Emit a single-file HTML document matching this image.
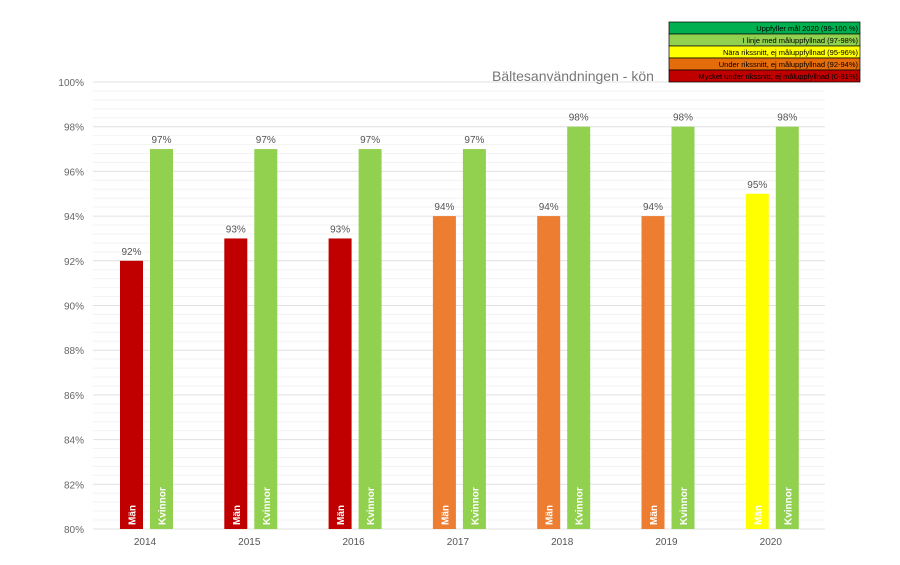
<!DOCTYPE html>
<html><head><meta charset="utf-8"><style>
body{margin:0;background:#fff;width:900px;height:560px;overflow:hidden}
svg{font-family:"Liberation Sans",sans-serif}
</style></head><body>
<svg width="900" height="560" xmlns="http://www.w3.org/2000/svg">
<g id="grid"></g>
<g id="bars"></g>
<text x="492" y="81" font-size="14" fill="#777">Bältesanvändningen - kön</text>
<g font-size="7.5" text-anchor="end" fill="#000">
<rect x="669" y="22" width="191" height="12" fill="#00b050" stroke="#000" stroke-width="0.7"/>
<text x="858" y="31">Uppfyller mål 2020 (99-100 %)</text>
<rect x="669" y="34" width="191" height="12" fill="#92d050" stroke="#000" stroke-width="0.7"/>
<text x="858" y="43">I linje med måluppfyllnad (97-98%)</text>
<rect x="669" y="46" width="191" height="12" fill="#ffff00" stroke="#000" stroke-width="0.7"/>
<text x="858" y="55">Nära rikssnitt, ej måluppfyllnad (95-96%)</text>
<rect x="669" y="58" width="191" height="12" fill="#e46c0a" stroke="#000" stroke-width="0.7"/>
<text x="858" y="67">Under rikssnitt, ej måluppfyllnad (92-94%)</text>
<rect x="669" y="70" width="191" height="12" fill="#c00000" stroke="#000" stroke-width="0.7"/>
<text x="858" y="79">Mycket under rikssnitt, ej måluppfyllnad (0-91%)</text>
</g>
</svg>
<script>
const ns="http://www.w3.org/2000/svg",s=22.35,y0=529;
const Y=v=>y0-(v-80)*s;
const g=document.getElementById('grid'),b=document.getElementById('bars');
function el(p,t,a,txt){const e=document.createElementNS(ns,t);for(const k in a)e.setAttribute(k,a[k]);if(txt)e.textContent=txt;p.appendChild(e);return e}
for(let i=0;i<=50;i++){const v=80+i*0.4,y=Y(v);const major=i%5==0;
el(g,'line',{x1:93,x2:825,y1:y,y2:y,stroke:major?'#e0e0e0':'#f3f3f3','stroke-width':1});
if(major)el(g,'text',{x:84,y:y+4,'font-size':10,'text-anchor':'end',fill:'#666'},Math.round(v)+'%');}
const d=[[2014,92,97,'#c00000'],[2015,93,97,'#c00000'],[2016,93,97,'#c00000'],[2017,94,97,'#ed7d31'],[2018,94,98,'#ed7d31'],[2019,94,98,'#ed7d31'],[2020,95,98,'#ffff00']];
d.forEach((r,i)=>{const c=145+i*104.3;
[[r[1],r[3],c-25,'Män'],[r[2],'#92d050',c+5,'Kvinnor']].forEach(q=>{
el(b,'rect',{x:q[2],y:Y(q[0]),width:23,height:y0-Y(q[0]),fill:q[1]});
el(b,'text',{x:q[2]+11.5,y:Y(q[0])-6,'font-size':10,'text-anchor':'middle',fill:'#555'},q[0]+'%');
el(b,'text',{x:0,y:0,'font-size':10,'font-weight':'bold',fill:'#fff',transform:`translate(${q[2]+15.5},${y0-4}) rotate(-90)`},q[3]);
});
el(b,'text',{x:c,y:545,'font-size':10,'text-anchor':'middle',fill:'#555'},r[0]);
});
</script>
</body></html>
